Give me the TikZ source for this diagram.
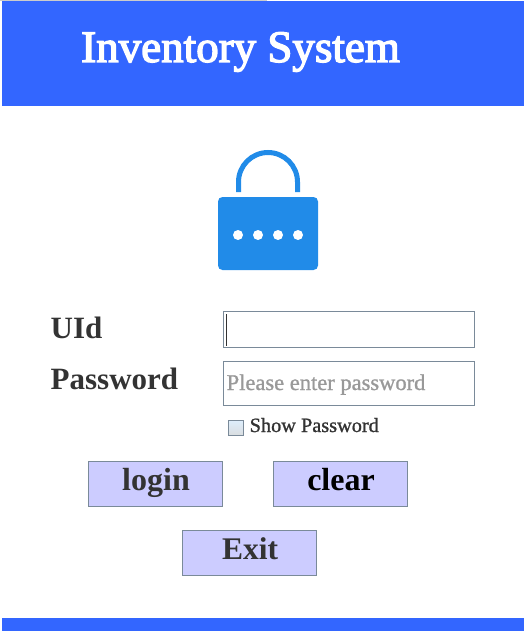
\documentclass[tikz,border=0pt]{standalone}
\usepackage{fontspec}
\setmainfont{Liberation Serif}
\font\ttlfont="Liberation Serif:embolden=3" at 45pt
\font\phfont="Liberation Serif:embolden=1" at 22.5pt
\font\spfont="Liberation Serif:embolden=1" at 20.3pt
\definecolor{hdr}{HTML}{3366FF}
\definecolor{lockc}{HTML}{218BE8}
\definecolor{edge}{HTML}{7A8A99}
\definecolor{btn}{HTML}{CCCCFF}
\definecolor{ink}{HTML}{333333}
\tikzset{
  x=1pt,y=-1pt,
  bar/.style={fill=hdr,draw=none},
  field/.style={draw=edge,line width=1pt,fill=white,anchor=north west,inner sep=0pt,outer sep=0pt},
  btnbox/.style={draw=edge,line width=0.9pt,fill=btn,anchor=north west,minimum width=134pt,minimum height=45pt,inner sep=0pt,outer sep=0pt},
  lbl/.style={anchor=base west,inner sep=0pt,text=ink},
  dot/.style={fill=white,draw=none}
}
\begin{document}
\begin{tikzpicture}
\useasboundingbox (0,0) rectangle (524,631);
\fill[white] (0,0) rectangle (524,631);
\fill[black!20] (0,0) rectangle (267,1);
\fill[bar] (2,1) rectangle (524,106);
\fill[bar] (2,618) rectangle (524,631);
\node[anchor=base west,inner sep=0pt,text=white] (title) at (81,62) {\ttlfont Inventory System};
% lock
\draw[lockc,line width=5pt] (238.5,192) -- (238.5,182) arc[start angle=180,end angle=360,radius=29.5] -- (297.5,192);
\fill[lockc,rounded corners=4.5pt] (218,197) rectangle (318,270);
\foreach \px in {238,258,278,298}{\fill[dot] (\px,235) circle (5pt);}
% labels
\node[lbl] (uid) at (50.5,338) {\bfseries\fontsize{31}{33}\selectfont UId};
\node[lbl] (pw) at (50.5,389) {\bfseries\fontsize{31}{33}\selectfont Password};
% fields
\node[field,minimum width=251pt,minimum height=36pt] (f1) at (223.5,311.5) {};
\draw[ink,line width=1pt] (226.5,314) -- (226.5,346);
\node[field,minimum width=251pt,minimum height=44pt] (f2) at (223.5,361.5) {};
\node[anchor=base west,inner sep=0pt,text=black!40!white] (ph) at (226.5,390) {\phfont Please enter password};
% checkbox
\node[draw=edge,line width=0.8pt,anchor=north west,minimum width=15pt,minimum height=15pt,inner sep=0pt,outer sep=0pt,top color=white!85!lockc,bottom color=lockc!20!black!15!white] (cb) at (228.5,420.5) {};
\node[lbl] (sp) at (249.5,432) {\spfont Show Password};
% buttons
\node[btnbox] (login) at (88.5,461.5) {};
\node[anchor=base,inner sep=0pt,text=ink] at (156,490) {\bfseries\fontsize{32}{34}\selectfont login};
\node[btnbox] (clear) at (273.5,461.5) {};
\node[anchor=base,inner sep=0pt,text=black] at (341,490) {\bfseries\fontsize{32}{34}\selectfont clear};
\node[btnbox] (exit) at (182.5,530.5) {};
\node[anchor=base,inner sep=0pt,text=ink] at (250,559) {\bfseries\fontsize{31.5}{33}\selectfont Exit};
\end{tikzpicture}
\end{document}
